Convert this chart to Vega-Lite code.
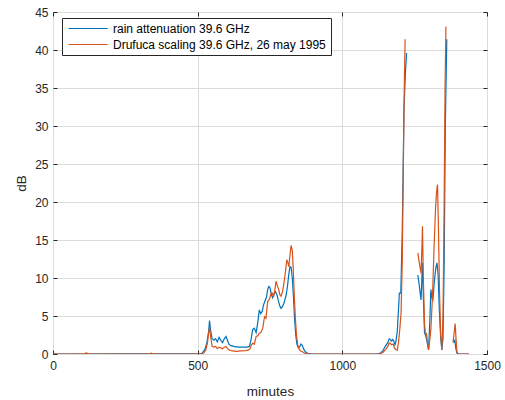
{
  "$schema": "https://vega.github.io/schema/vega-lite/v6.json",
  "width": 434,
  "height": 342,
  "autosize": "none",
  "padding": {"left": 53, "top": 12, "right": 18, "bottom": 46},
  "background": "white",
  "datasets": {
    "att": [
      {"m": 0, "dB": 0, "s": "rain attenuation 39.6 GHz"},
      {"m": 500, "dB": 0.05, "s": "rain attenuation 39.6 GHz"},
      {"m": 515, "dB": 0.1, "s": "rain attenuation 39.6 GHz"},
      {"m": 525, "dB": 0.6, "s": "rain attenuation 39.6 GHz"},
      {"m": 532, "dB": 1.5, "s": "rain attenuation 39.6 GHz"},
      {"m": 538, "dB": 3.0, "s": "rain attenuation 39.6 GHz"},
      {"m": 541, "dB": 4.4, "s": "rain attenuation 39.6 GHz"},
      {"m": 545, "dB": 3.0, "s": "rain attenuation 39.6 GHz"},
      {"m": 550, "dB": 2.0, "s": "rain attenuation 39.6 GHz"},
      {"m": 556, "dB": 1.8, "s": "rain attenuation 39.6 GHz"},
      {"m": 562, "dB": 2.0, "s": "rain attenuation 39.6 GHz"},
      {"m": 568, "dB": 1.6, "s": "rain attenuation 39.6 GHz"},
      {"m": 574, "dB": 2.2, "s": "rain attenuation 39.6 GHz"},
      {"m": 580, "dB": 1.8, "s": "rain attenuation 39.6 GHz"},
      {"m": 586, "dB": 1.5, "s": "rain attenuation 39.6 GHz"},
      {"m": 592, "dB": 2.0, "s": "rain attenuation 39.6 GHz"},
      {"m": 598, "dB": 2.3, "s": "rain attenuation 39.6 GHz"},
      {"m": 603, "dB": 1.8, "s": "rain attenuation 39.6 GHz"},
      {"m": 608, "dB": 1.3, "s": "rain attenuation 39.6 GHz"},
      {"m": 615, "dB": 1.1, "s": "rain attenuation 39.6 GHz"},
      {"m": 625, "dB": 1.0, "s": "rain attenuation 39.6 GHz"},
      {"m": 640, "dB": 0.9, "s": "rain attenuation 39.6 GHz"},
      {"m": 655, "dB": 0.9, "s": "rain attenuation 39.6 GHz"},
      {"m": 670, "dB": 0.9, "s": "rain attenuation 39.6 GHz"},
      {"m": 679, "dB": 1.0, "s": "rain attenuation 39.6 GHz"},
      {"m": 685, "dB": 2.0, "s": "rain attenuation 39.6 GHz"},
      {"m": 690, "dB": 3.2, "s": "rain attenuation 39.6 GHz"},
      {"m": 696, "dB": 3.4, "s": "rain attenuation 39.6 GHz"},
      {"m": 702, "dB": 2.8, "s": "rain attenuation 39.6 GHz"},
      {"m": 708, "dB": 4.2, "s": "rain attenuation 39.6 GHz"},
      {"m": 713, "dB": 5.8, "s": "rain attenuation 39.6 GHz"},
      {"m": 718, "dB": 5.3, "s": "rain attenuation 39.6 GHz"},
      {"m": 723, "dB": 5.6, "s": "rain attenuation 39.6 GHz"},
      {"m": 728, "dB": 6.5, "s": "rain attenuation 39.6 GHz"},
      {"m": 733, "dB": 7.0, "s": "rain attenuation 39.6 GHz"},
      {"m": 738, "dB": 7.5, "s": "rain attenuation 39.6 GHz"},
      {"m": 742, "dB": 8.5, "s": "rain attenuation 39.6 GHz"},
      {"m": 746, "dB": 8.9, "s": "rain attenuation 39.6 GHz"},
      {"m": 750, "dB": 8.7, "s": "rain attenuation 39.6 GHz"},
      {"m": 755, "dB": 7.8, "s": "rain attenuation 39.6 GHz"},
      {"m": 759, "dB": 7.4, "s": "rain attenuation 39.6 GHz"},
      {"m": 764, "dB": 7.9, "s": "rain attenuation 39.6 GHz"},
      {"m": 769, "dB": 8.2, "s": "rain attenuation 39.6 GHz"},
      {"m": 774, "dB": 7.8, "s": "rain attenuation 39.6 GHz"},
      {"m": 779, "dB": 7.0, "s": "rain attenuation 39.6 GHz"},
      {"m": 784, "dB": 6.3, "s": "rain attenuation 39.6 GHz"},
      {"m": 788, "dB": 6.0, "s": "rain attenuation 39.6 GHz"},
      {"m": 794, "dB": 6.3, "s": "rain attenuation 39.6 GHz"},
      {"m": 800, "dB": 6.9, "s": "rain attenuation 39.6 GHz"},
      {"m": 806, "dB": 7.8, "s": "rain attenuation 39.6 GHz"},
      {"m": 811, "dB": 9.1, "s": "rain attenuation 39.6 GHz"},
      {"m": 815, "dB": 10.5, "s": "rain attenuation 39.6 GHz"},
      {"m": 819, "dB": 11.5, "s": "rain attenuation 39.6 GHz"},
      {"m": 823, "dB": 11.4, "s": "rain attenuation 39.6 GHz"},
      {"m": 827, "dB": 10.0, "s": "rain attenuation 39.6 GHz"},
      {"m": 831, "dB": 7.5, "s": "rain attenuation 39.6 GHz"},
      {"m": 835, "dB": 4.6, "s": "rain attenuation 39.6 GHz"},
      {"m": 839, "dB": 2.5, "s": "rain attenuation 39.6 GHz"},
      {"m": 843, "dB": 1.3, "s": "rain attenuation 39.6 GHz"},
      {"m": 848, "dB": 0.8, "s": "rain attenuation 39.6 GHz"},
      {"m": 852, "dB": 0.9, "s": "rain attenuation 39.6 GHz"},
      {"m": 857, "dB": 1.3, "s": "rain attenuation 39.6 GHz"},
      {"m": 862, "dB": 1.1, "s": "rain attenuation 39.6 GHz"},
      {"m": 867, "dB": 0.6, "s": "rain attenuation 39.6 GHz"},
      {"m": 872, "dB": 0.3, "s": "rain attenuation 39.6 GHz"},
      {"m": 880, "dB": 0.1, "s": "rain attenuation 39.6 GHz"},
      {"m": 890, "dB": 0.02, "s": "rain attenuation 39.6 GHz"},
      {"m": 1120, "dB": 0, "s": "rain attenuation 39.6 GHz"},
      {"m": 1130, "dB": 0.1, "s": "rain attenuation 39.6 GHz"},
      {"m": 1140, "dB": 0.4, "s": "rain attenuation 39.6 GHz"},
      {"m": 1145, "dB": 0.8, "s": "rain attenuation 39.6 GHz"},
      {"m": 1150, "dB": 1.1, "s": "rain attenuation 39.6 GHz"},
      {"m": 1157, "dB": 1.5, "s": "rain attenuation 39.6 GHz"},
      {"m": 1162, "dB": 2.0, "s": "rain attenuation 39.6 GHz"},
      {"m": 1166, "dB": 1.9, "s": "rain attenuation 39.6 GHz"},
      {"m": 1170, "dB": 1.7, "s": "rain attenuation 39.6 GHz"},
      {"m": 1174, "dB": 1.9, "s": "rain attenuation 39.6 GHz"},
      {"m": 1178, "dB": 1.7, "s": "rain attenuation 39.6 GHz"},
      {"m": 1182, "dB": 1.2, "s": "rain attenuation 39.6 GHz"},
      {"m": 1185, "dB": 1.6, "s": "rain attenuation 39.6 GHz"},
      {"m": 1190, "dB": 3.0, "s": "rain attenuation 39.6 GHz"},
      {"m": 1195, "dB": 6.5, "s": "rain attenuation 39.6 GHz"},
      {"m": 1197, "dB": 8.0, "s": "rain attenuation 39.6 GHz"},
      {"m": 1202, "dB": 8.0, "s": "rain attenuation 39.6 GHz"},
      {"m": 1207, "dB": 16.0, "s": "rain attenuation 39.6 GHz"},
      {"m": 1213, "dB": 32.0, "s": "rain attenuation 39.6 GHz"},
      {"m": 1218, "dB": 37.0, "s": "rain attenuation 39.6 GHz"},
      {"m": 1222, "dB": 39.6, "s": "rain attenuation 39.6 GHz"},
      {"m": 1240, "dB": null, "s": "rain attenuation 39.6 GHz"},
      {"m": 1261, "dB": 10.4, "s": "rain attenuation 39.6 GHz"},
      {"m": 1266, "dB": 9.0, "s": "rain attenuation 39.6 GHz"},
      {"m": 1272, "dB": 7.1, "s": "rain attenuation 39.6 GHz"},
      {"m": 1277, "dB": 12.0, "s": "rain attenuation 39.6 GHz"},
      {"m": 1280, "dB": 7.5, "s": "rain attenuation 39.6 GHz"},
      {"m": 1284, "dB": 2.8, "s": "rain attenuation 39.6 GHz"},
      {"m": 1288, "dB": 2.4, "s": "rain attenuation 39.6 GHz"},
      {"m": 1292, "dB": 1.8, "s": "rain attenuation 39.6 GHz"},
      {"m": 1298, "dB": 0.55, "s": "rain attenuation 39.6 GHz"},
      {"m": 1302, "dB": 4.0, "s": "rain attenuation 39.6 GHz"},
      {"m": 1306, "dB": 8.5, "s": "rain attenuation 39.6 GHz"},
      {"m": 1310, "dB": 7.3, "s": "rain attenuation 39.6 GHz"},
      {"m": 1313, "dB": 7.1, "s": "rain attenuation 39.6 GHz"},
      {"m": 1318, "dB": 9.5, "s": "rain attenuation 39.6 GHz"},
      {"m": 1323, "dB": 11.3, "s": "rain attenuation 39.6 GHz"},
      {"m": 1327, "dB": 12.0, "s": "rain attenuation 39.6 GHz"},
      {"m": 1331, "dB": 10.5, "s": "rain attenuation 39.6 GHz"},
      {"m": 1335, "dB": 6.0, "s": "rain attenuation 39.6 GHz"},
      {"m": 1340, "dB": 2.0, "s": "rain attenuation 39.6 GHz"},
      {"m": 1344, "dB": 0.55, "s": "rain attenuation 39.6 GHz"},
      {"m": 1348, "dB": 2.0, "s": "rain attenuation 39.6 GHz"},
      {"m": 1352, "dB": 12.0, "s": "rain attenuation 39.6 GHz"},
      {"m": 1356, "dB": 30.0, "s": "rain attenuation 39.6 GHz"},
      {"m": 1361, "dB": 41.4, "s": "rain attenuation 39.6 GHz"},
      {"m": 1370, "dB": null, "s": "rain attenuation 39.6 GHz"},
      {"m": 1383, "dB": 2.0, "s": "rain attenuation 39.6 GHz"},
      {"m": 1386, "dB": 1.6, "s": "rain attenuation 39.6 GHz"},
      {"m": 1389, "dB": 1.8, "s": "rain attenuation 39.6 GHz"},
      {"m": 1392, "dB": 0.8, "s": "rain attenuation 39.6 GHz"},
      {"m": 1396, "dB": 0.1, "s": "rain attenuation 39.6 GHz"},
      {"m": 1400, "dB": 0, "s": "rain attenuation 39.6 GHz"},
      {"m": 1438, "dB": 0, "s": "rain attenuation 39.6 GHz"},

      {"m": 0, "dB": 0, "s": "Drufuca scaling 39.6 GHz, 26 may 1995"},
      {"m": 105, "dB": 0, "s": "Drufuca scaling 39.6 GHz, 26 may 1995"},
      {"m": 115, "dB": 0.15, "s": "Drufuca scaling 39.6 GHz, 26 may 1995"},
      {"m": 125, "dB": 0, "s": "Drufuca scaling 39.6 GHz, 26 may 1995"},
      {"m": 333, "dB": 0, "s": "Drufuca scaling 39.6 GHz, 26 may 1995"},
      {"m": 340, "dB": 0.1, "s": "Drufuca scaling 39.6 GHz, 26 may 1995"},
      {"m": 348, "dB": 0, "s": "Drufuca scaling 39.6 GHz, 26 may 1995"},
      {"m": 505, "dB": 0, "s": "Drufuca scaling 39.6 GHz, 26 may 1995"},
      {"m": 520, "dB": 0.1, "s": "Drufuca scaling 39.6 GHz, 26 may 1995"},
      {"m": 528, "dB": 0.5, "s": "Drufuca scaling 39.6 GHz, 26 may 1995"},
      {"m": 534, "dB": 1.5, "s": "Drufuca scaling 39.6 GHz, 26 may 1995"},
      {"m": 538, "dB": 2.8, "s": "Drufuca scaling 39.6 GHz, 26 may 1995"},
      {"m": 541, "dB": 3.5, "s": "Drufuca scaling 39.6 GHz, 26 may 1995"},
      {"m": 545, "dB": 2.2, "s": "Drufuca scaling 39.6 GHz, 26 may 1995"},
      {"m": 550, "dB": 1.0, "s": "Drufuca scaling 39.6 GHz, 26 may 1995"},
      {"m": 556, "dB": 0.9, "s": "Drufuca scaling 39.6 GHz, 26 may 1995"},
      {"m": 562, "dB": 1.0, "s": "Drufuca scaling 39.6 GHz, 26 may 1995"},
      {"m": 568, "dB": 0.7, "s": "Drufuca scaling 39.6 GHz, 26 may 1995"},
      {"m": 574, "dB": 0.9, "s": "Drufuca scaling 39.6 GHz, 26 may 1995"},
      {"m": 580, "dB": 0.8, "s": "Drufuca scaling 39.6 GHz, 26 may 1995"},
      {"m": 586, "dB": 0.7, "s": "Drufuca scaling 39.6 GHz, 26 may 1995"},
      {"m": 592, "dB": 0.9, "s": "Drufuca scaling 39.6 GHz, 26 may 1995"},
      {"m": 598, "dB": 1.0, "s": "Drufuca scaling 39.6 GHz, 26 may 1995"},
      {"m": 603, "dB": 0.7, "s": "Drufuca scaling 39.6 GHz, 26 may 1995"},
      {"m": 610, "dB": 0.5, "s": "Drufuca scaling 39.6 GHz, 26 may 1995"},
      {"m": 620, "dB": 0.4, "s": "Drufuca scaling 39.6 GHz, 26 may 1995"},
      {"m": 635, "dB": 0.35, "s": "Drufuca scaling 39.6 GHz, 26 may 1995"},
      {"m": 650, "dB": 0.4, "s": "Drufuca scaling 39.6 GHz, 26 may 1995"},
      {"m": 665, "dB": 0.45, "s": "Drufuca scaling 39.6 GHz, 26 may 1995"},
      {"m": 675, "dB": 0.5, "s": "Drufuca scaling 39.6 GHz, 26 may 1995"},
      {"m": 680, "dB": 0.6, "s": "Drufuca scaling 39.6 GHz, 26 may 1995"},
      {"m": 686, "dB": 1.2, "s": "Drufuca scaling 39.6 GHz, 26 may 1995"},
      {"m": 690, "dB": 1.4, "s": "Drufuca scaling 39.6 GHz, 26 may 1995"},
      {"m": 696, "dB": 1.3, "s": "Drufuca scaling 39.6 GHz, 26 may 1995"},
      {"m": 702, "dB": 2.3, "s": "Drufuca scaling 39.6 GHz, 26 may 1995"},
      {"m": 708, "dB": 2.4, "s": "Drufuca scaling 39.6 GHz, 26 may 1995"},
      {"m": 713, "dB": 2.75, "s": "Drufuca scaling 39.6 GHz, 26 may 1995"},
      {"m": 718, "dB": 2.8, "s": "Drufuca scaling 39.6 GHz, 26 may 1995"},
      {"m": 725, "dB": 3.4, "s": "Drufuca scaling 39.6 GHz, 26 may 1995"},
      {"m": 731, "dB": 4.9, "s": "Drufuca scaling 39.6 GHz, 26 may 1995"},
      {"m": 736, "dB": 4.7, "s": "Drufuca scaling 39.6 GHz, 26 may 1995"},
      {"m": 742, "dB": 6.9, "s": "Drufuca scaling 39.6 GHz, 26 may 1995"},
      {"m": 748, "dB": 7.2, "s": "Drufuca scaling 39.6 GHz, 26 may 1995"},
      {"m": 754, "dB": 8.0, "s": "Drufuca scaling 39.6 GHz, 26 may 1995"},
      {"m": 758, "dB": 8.0, "s": "Drufuca scaling 39.6 GHz, 26 may 1995"},
      {"m": 762, "dB": 7.5, "s": "Drufuca scaling 39.6 GHz, 26 may 1995"},
      {"m": 767, "dB": 8.5, "s": "Drufuca scaling 39.6 GHz, 26 may 1995"},
      {"m": 771, "dB": 9.6, "s": "Drufuca scaling 39.6 GHz, 26 may 1995"},
      {"m": 775, "dB": 9.0, "s": "Drufuca scaling 39.6 GHz, 26 may 1995"},
      {"m": 780, "dB": 8.5, "s": "Drufuca scaling 39.6 GHz, 26 may 1995"},
      {"m": 784, "dB": 7.8, "s": "Drufuca scaling 39.6 GHz, 26 may 1995"},
      {"m": 788, "dB": 7.6, "s": "Drufuca scaling 39.6 GHz, 26 may 1995"},
      {"m": 794, "dB": 8.3, "s": "Drufuca scaling 39.6 GHz, 26 may 1995"},
      {"m": 800, "dB": 9.8, "s": "Drufuca scaling 39.6 GHz, 26 may 1995"},
      {"m": 804, "dB": 11.0, "s": "Drufuca scaling 39.6 GHz, 26 may 1995"},
      {"m": 808, "dB": 12.4, "s": "Drufuca scaling 39.6 GHz, 26 may 1995"},
      {"m": 812, "dB": 12.0, "s": "Drufuca scaling 39.6 GHz, 26 may 1995"},
      {"m": 815, "dB": 11.5, "s": "Drufuca scaling 39.6 GHz, 26 may 1995"},
      {"m": 819, "dB": 13.0, "s": "Drufuca scaling 39.6 GHz, 26 may 1995"},
      {"m": 823, "dB": 14.3, "s": "Drufuca scaling 39.6 GHz, 26 may 1995"},
      {"m": 827, "dB": 13.6, "s": "Drufuca scaling 39.6 GHz, 26 may 1995"},
      {"m": 830, "dB": 11.5, "s": "Drufuca scaling 39.6 GHz, 26 may 1995"},
      {"m": 834, "dB": 7.6, "s": "Drufuca scaling 39.6 GHz, 26 may 1995"},
      {"m": 838, "dB": 4.5, "s": "Drufuca scaling 39.6 GHz, 26 may 1995"},
      {"m": 842, "dB": 2.3, "s": "Drufuca scaling 39.6 GHz, 26 may 1995"},
      {"m": 846, "dB": 1.2, "s": "Drufuca scaling 39.6 GHz, 26 may 1995"},
      {"m": 851, "dB": 0.6, "s": "Drufuca scaling 39.6 GHz, 26 may 1995"},
      {"m": 856, "dB": 0.4, "s": "Drufuca scaling 39.6 GHz, 26 may 1995"},
      {"m": 862, "dB": 0.3, "s": "Drufuca scaling 39.6 GHz, 26 may 1995"},
      {"m": 870, "dB": 0.1, "s": "Drufuca scaling 39.6 GHz, 26 may 1995"},
      {"m": 880, "dB": 0, "s": "Drufuca scaling 39.6 GHz, 26 may 1995"},
      {"m": 1130, "dB": 0, "s": "Drufuca scaling 39.6 GHz, 26 may 1995"},
      {"m": 1140, "dB": 0.2, "s": "Drufuca scaling 39.6 GHz, 26 may 1995"},
      {"m": 1150, "dB": 0.6, "s": "Drufuca scaling 39.6 GHz, 26 may 1995"},
      {"m": 1157, "dB": 1.0, "s": "Drufuca scaling 39.6 GHz, 26 may 1995"},
      {"m": 1162, "dB": 1.45, "s": "Drufuca scaling 39.6 GHz, 26 may 1995"},
      {"m": 1166, "dB": 1.4, "s": "Drufuca scaling 39.6 GHz, 26 may 1995"},
      {"m": 1170, "dB": 1.2, "s": "Drufuca scaling 39.6 GHz, 26 may 1995"},
      {"m": 1176, "dB": 1.3, "s": "Drufuca scaling 39.6 GHz, 26 may 1995"},
      {"m": 1180, "dB": 0.8, "s": "Drufuca scaling 39.6 GHz, 26 may 1995"},
      {"m": 1184, "dB": 0.6, "s": "Drufuca scaling 39.6 GHz, 26 may 1995"},
      {"m": 1190, "dB": 0.5, "s": "Drufuca scaling 39.6 GHz, 26 may 1995"},
      {"m": 1194, "dB": 1.5, "s": "Drufuca scaling 39.6 GHz, 26 may 1995"},
      {"m": 1198, "dB": 3.0, "s": "Drufuca scaling 39.6 GHz, 26 may 1995"},
      {"m": 1203, "dB": 5.4, "s": "Drufuca scaling 39.6 GHz, 26 may 1995"},
      {"m": 1207, "dB": 12.0, "s": "Drufuca scaling 39.6 GHz, 26 may 1995"},
      {"m": 1211, "dB": 25.0, "s": "Drufuca scaling 39.6 GHz, 26 may 1995"},
      {"m": 1214, "dB": 35.0, "s": "Drufuca scaling 39.6 GHz, 26 may 1995"},
      {"m": 1217, "dB": 41.4, "s": "Drufuca scaling 39.6 GHz, 26 may 1995"},
      {"m": 1240, "dB": null, "s": "Drufuca scaling 39.6 GHz, 26 may 1995"},
      {"m": 1261, "dB": 13.3, "s": "Drufuca scaling 39.6 GHz, 26 may 1995"},
      {"m": 1266, "dB": 12.0, "s": "Drufuca scaling 39.6 GHz, 26 may 1995"},
      {"m": 1272, "dB": 10.6, "s": "Drufuca scaling 39.6 GHz, 26 may 1995"},
      {"m": 1275, "dB": 14.0, "s": "Drufuca scaling 39.6 GHz, 26 may 1995"},
      {"m": 1277, "dB": 16.8, "s": "Drufuca scaling 39.6 GHz, 26 may 1995"},
      {"m": 1280, "dB": 10.0, "s": "Drufuca scaling 39.6 GHz, 26 may 1995"},
      {"m": 1284, "dB": 4.0, "s": "Drufuca scaling 39.6 GHz, 26 may 1995"},
      {"m": 1287, "dB": 2.75, "s": "Drufuca scaling 39.6 GHz, 26 may 1995"},
      {"m": 1291, "dB": 2.7, "s": "Drufuca scaling 39.6 GHz, 26 may 1995"},
      {"m": 1295, "dB": 1.2, "s": "Drufuca scaling 39.6 GHz, 26 may 1995"},
      {"m": 1298, "dB": 0.55, "s": "Drufuca scaling 39.6 GHz, 26 may 1995"},
      {"m": 1302, "dB": 1.8, "s": "Drufuca scaling 39.6 GHz, 26 may 1995"},
      {"m": 1306, "dB": 3.2, "s": "Drufuca scaling 39.6 GHz, 26 may 1995"},
      {"m": 1312, "dB": 8.0, "s": "Drufuca scaling 39.6 GHz, 26 may 1995"},
      {"m": 1317, "dB": 14.0, "s": "Drufuca scaling 39.6 GHz, 26 may 1995"},
      {"m": 1322, "dB": 19.0, "s": "Drufuca scaling 39.6 GHz, 26 may 1995"},
      {"m": 1326, "dB": 21.5, "s": "Drufuca scaling 39.6 GHz, 26 may 1995"},
      {"m": 1329, "dB": 22.3, "s": "Drufuca scaling 39.6 GHz, 26 may 1995"},
      {"m": 1332, "dB": 17.0, "s": "Drufuca scaling 39.6 GHz, 26 may 1995"},
      {"m": 1336, "dB": 8.0, "s": "Drufuca scaling 39.6 GHz, 26 may 1995"},
      {"m": 1340, "dB": 2.5, "s": "Drufuca scaling 39.6 GHz, 26 may 1995"},
      {"m": 1344, "dB": 0.55, "s": "Drufuca scaling 39.6 GHz, 26 may 1995"},
      {"m": 1348, "dB": 5.0, "s": "Drufuca scaling 39.6 GHz, 26 may 1995"},
      {"m": 1352, "dB": 20.0, "s": "Drufuca scaling 39.6 GHz, 26 may 1995"},
      {"m": 1355, "dB": 35.0, "s": "Drufuca scaling 39.6 GHz, 26 may 1995"},
      {"m": 1358, "dB": 43.1, "s": "Drufuca scaling 39.6 GHz, 26 may 1995"},
      {"m": 1370, "dB": null, "s": "Drufuca scaling 39.6 GHz, 26 may 1995"},
      {"m": 1383, "dB": 1.5, "s": "Drufuca scaling 39.6 GHz, 26 may 1995"},
      {"m": 1387, "dB": 3.0, "s": "Drufuca scaling 39.6 GHz, 26 may 1995"},
      {"m": 1390, "dB": 4.0, "s": "Drufuca scaling 39.6 GHz, 26 may 1995"},
      {"m": 1393, "dB": 2.0, "s": "Drufuca scaling 39.6 GHz, 26 may 1995"},
      {"m": 1396, "dB": 0.3, "s": "Drufuca scaling 39.6 GHz, 26 may 1995"},
      {"m": 1400, "dB": 0, "s": "Drufuca scaling 39.6 GHz, 26 may 1995"},
      {"m": 1438, "dB": 0, "s": "Drufuca scaling 39.6 GHz, 26 may 1995"}
    ]
  },
  "data": {"name": "att"},
  "layer": [
    {
      "transform": [{"filter": "datum.s === 'rain attenuation 39.6 GHz'"}],
      "mark": {"type": "line", "strokeWidth": 1.2, "clip": true},
      "encoding": {
        "x": {
          "field": "m", "type": "quantitative",
          "scale": {"domain": [0, 1500], "nice": false},
          "axis": {"title": "minutes", "values": [0, 500, 1000, 1500], "format": "d", "orient": "bottom", "labelFlush": false}
        },
        "y": {
          "field": "dB", "type": "quantitative",
          "scale": {"domain": [0, 45], "nice": false},
          "axis": {"title": "dB", "values": [0, 5, 10, 15, 20, 25, 30, 35, 40, 45], "orient": "left", "labelFlush": false}
        },
        "color": {
          "field": "s", "type": "nominal",
          "scale": {
            "domain": ["rain attenuation 39.6 GHz", "Drufuca scaling 39.6 GHz, 26 may 1995"],
            "range": ["#0072BD", "#D95319"]
          },
          "legend": {
            "title": null, "orient": "none", "legendX": 9, "legendY": 6,
            "symbolType": "M-1,0H8.8", "symbolSize": 64, "symbolStrokeWidth": 1.2,
            "labelFont": "Liberation Sans", "labelFontSize": 12, "labelColor": "#000000",
            "labelLimit": 0,
            "strokeColor": "#262626", "fillColor": "white", "padding": 4.5,
            "rowPadding": 4, "labelOffset": 34.5
          }
        }
      }
    },
    {
      "transform": [{"filter": "datum.s === 'Drufuca scaling 39.6 GHz, 26 may 1995'"}],
      "mark": {"type": "line", "strokeWidth": 1.2, "clip": true},
      "encoding": {
        "x": {"field": "m", "type": "quantitative", "axis": null},
        "y": {"field": "dB", "type": "quantitative", "axis": null},
        "color": {"field": "s", "type": "nominal"}
      }
    },
    {
      "mark": {"type": "line", "strokeOpacity": 0},
      "encoding": {
        "x": {
          "field": "m", "type": "quantitative",
          "axis": {"orient": "top", "title": null, "labels": false, "grid": false, "values": [0, 500, 1000, 1500]}
        },
        "y": {
          "field": "dB", "type": "quantitative",
          "axis": {"orient": "right", "title": null, "labels": false, "grid": false, "values": [0, 5, 10, 15, 20, 25, 30, 35, 40, 45]}
        }
      }
    }
  ],
  "resolve": {"axis": {"x": "independent", "y": "independent"}},
  "config": {
    "font": "Liberation Sans",
    "view": {"stroke": "#262626", "strokeWidth": 1},
    "axis": {
      "labelFont": "Liberation Sans", "labelFontSize": 12, "labelColor": "#262626",
      "titleFont": "Liberation Sans", "titleFontSize": 13.5, "titleFontWeight": "normal", "titleColor": "#262626",
      "gridColor": "#dcdcdc", "gridWidth": 1, "grid": true,
      "domain": false, "tickColor": "#262626", "tickSize": -4, "labelPadding": 10,
      "titlePadding": 6, "labelFlush": false
    },
    "axisLeft": {"labelPadding": 9},
    "axisBottom": {"labelPadding": 10, "titlePadding": 13}
  }
}
